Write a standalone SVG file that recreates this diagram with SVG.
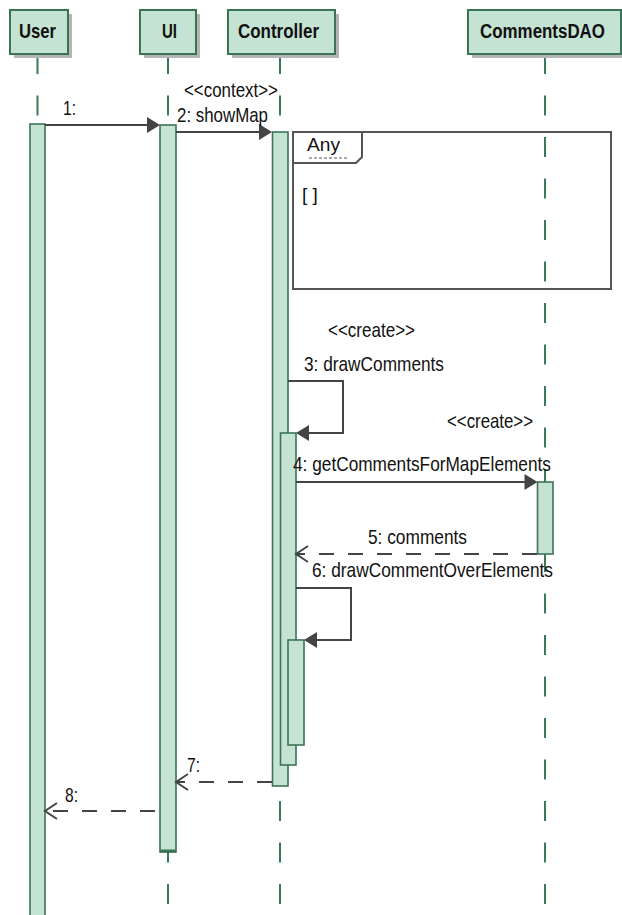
<svg xmlns="http://www.w3.org/2000/svg" width="622" height="915" viewBox="0 0 622 915">
<style>
.head{fill:#c5e3d3;stroke:#3b7356;stroke-width:2}
.shadow{fill:#b5b5b5}
.ht{font-family:"Liberation Sans",Arial,sans-serif;font-weight:bold;font-size:21px;fill:#111}
.life{stroke:#3b7a57;stroke-width:2;stroke-dasharray:20 21.5;fill:none}
.act{fill:#c5e3d3;stroke:#3b7356;stroke-width:1.6}
.msg{stroke:#444;stroke-width:2;fill:none}
.ret{stroke:#444;stroke-width:2;fill:none;stroke-dasharray:15 14}
.ah{fill:#444;stroke:none}
.oh{stroke:#444;stroke-width:2;fill:none}
.lbl{font-family:"Liberation Sans",Arial,sans-serif;font-size:21px;fill:#111}
.frag{fill:none;stroke:#555;stroke-width:2}
.ft{font-family:"Liberation Sans",Arial,sans-serif;font-size:19px;fill:#111}
</style>
<g id="lifelines">
<line class="life" x1="37.5" y1="54" x2="37.5" y2="915"/>
<line class="life" x1="168" y1="54" x2="168" y2="915"/>
<line class="life" x1="280" y1="54" x2="280" y2="915"/>
<line class="life" x1="545" y1="54" x2="545" y2="915"/>
</g>
<g id="User">
<rect class="shadow" x="14" y="14" width="58" height="44"/>
<rect class="head" x="10" y="10" width="58" height="44"/>
<text class="ht" x="19" y="38" textLength="37" lengthAdjust="spacingAndGlyphs">User</text>
<rect class="act" x="30" y="124" width="15" height="795"/>
</g>
<g id="UI">
<rect class="shadow" x="144" y="14" width="56" height="44"/>
<rect class="head" x="140" y="10" width="56" height="44"/>
<text class="ht" x="162" y="38" textLength="15" lengthAdjust="spacingAndGlyphs">UI</text>
<rect class="act" x="160" y="125" width="16" height="727"/>
<line x1="160" y1="851" x2="176" y2="851" stroke="#3b7356" stroke-width="3"/>
</g>
<g id="Controller">
<rect class="shadow" x="232" y="14" width="107" height="44"/>
<rect class="head" x="228" y="10" width="107" height="44"/>
<text class="ht" x="238" y="38" textLength="81" lengthAdjust="spacingAndGlyphs">Controller</text>
<rect class="act" x="272.5" y="132" width="15.5" height="654"/>
<rect class="act" x="280.5" y="433" width="15.5" height="332"/>
<rect class="act" x="288" y="640" width="16" height="105"/>
</g>
<g id="CommentsDAO">
<rect class="shadow" x="472" y="14" width="154" height="44"/>
<rect class="head" x="468" y="10" width="153" height="44"/>
<text class="ht" x="542.5" y="38" text-anchor="middle" style="font-size:20px" textLength="125" lengthAdjust="spacingAndGlyphs">CommentsDAO</text>
<rect class="act" x="537.5" y="482" width="15.5" height="72"/>
</g>
<g id="fragment-any">
<rect class="frag" x="293" y="132" width="318" height="157"/>
<path class="frag" d="M293,163 L356,163 L362,157 L362,132"/>
<text class="ft" x="307" y="151" textLength="33" lengthAdjust="spacingAndGlyphs">Any</text>
<line x1="309" y1="158" x2="349" y2="158" stroke="#555" stroke-width="1" stroke-dasharray="3 2"/>
<text class="ft" x="302" y="201">[ ]</text>
</g>
<g id="connectors">
<line class="msg" x1="45" y1="125" x2="150" y2="125"/>
<path class="ah" d="M160,125 L147,117 L147,133 Z"/>
<text class="lbl" x="63" y="115" textLength="13" lengthAdjust="spacingAndGlyphs">1:</text>

<line class="msg" x1="176" y1="132" x2="262" y2="132"/>
<path class="ah" d="M272,132 L259,124 L259,140 Z"/>
<text class="lbl" x="184" y="97" textLength="94" lengthAdjust="spacingAndGlyphs">&lt;&lt;context&gt;&gt;</text>
<text class="lbl" x="177" y="122" textLength="91" lengthAdjust="spacingAndGlyphs">2: showMap</text>

<text class="lbl" x="328" y="337" textLength="87" lengthAdjust="spacingAndGlyphs">&lt;&lt;create&gt;&gt;</text>
<text class="lbl" x="304" y="371" textLength="140" lengthAdjust="spacingAndGlyphs">3: drawComments</text>
<path class="msg" d="M288,381 L343,381 L343,433 L306,433"/>
<path class="ah" d="M296,433 L309,425 L309,441 Z"/>

<text class="lbl" x="447" y="428" textLength="86" lengthAdjust="spacingAndGlyphs">&lt;&lt;create&gt;&gt;</text>
<text class="lbl" x="293" y="471" textLength="258" lengthAdjust="spacingAndGlyphs">4: getCommentsForMapElements</text>
<line class="msg" x1="296" y1="482" x2="527" y2="482"/>
<path class="ah" d="M537.5,482 L524.5,474 L524.5,490 Z"/>

<text class="lbl" x="368" y="544" textLength="99" lengthAdjust="spacingAndGlyphs">5: comments</text>
<line class="ret" x1="537" y1="554" x2="297" y2="554"/>
<path class="oh" d="M308,546 L296,554 L308,562"/>

<text class="lbl" x="312" y="577" textLength="241" lengthAdjust="spacingAndGlyphs">6: drawCommentOverElements</text>
<path class="msg" d="M296,588 L351,588 L351,640 L314,640"/>
<path class="ah" d="M304,640 L317,632 L317,648 Z"/>

<text class="lbl" x="187" y="772" textLength="13" lengthAdjust="spacingAndGlyphs">7:</text>
<line class="ret" x1="272" y1="782" x2="177" y2="782"/>
<path class="oh" d="M188,774 L176,782 L188,790"/>

<text class="lbl" x="65" y="802" textLength="13" lengthAdjust="spacingAndGlyphs">8:</text>
<line class="ret" x1="155" y1="811" x2="46" y2="811"/>
<path class="oh" d="M57,803 L45,811 L57,819"/>
</g>
</svg>
